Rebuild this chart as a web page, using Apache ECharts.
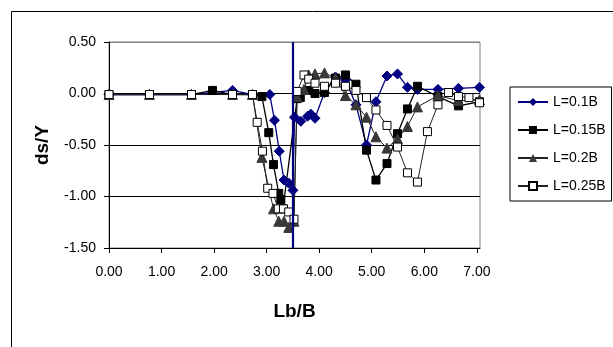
<!DOCTYPE html>
<html>
<head>
<meta charset="utf-8">
<script src="https://cdn.jsdelivr.net/npm/echarts@6/dist/echarts.min.js"></script>
<style>
  html, body { margin: 0; padding: 0; background: #fff; }
  #chart { width: 613px; height: 347px; }
</style>
</head>
<body>
<div id="chart"></div>
<script>
// series names (legend)
var seriesNames = ['L=0.1B', 'L=0.15B', 'L=0.2B', 'L=0.25B'];

// [Lb/B, ds/Y]
var dataL010 = [
  [0, -0.01], [0.77, -0.01], [1.57, -0.01], [2.35, 0.03], [2.73, -0.01], [3.06, -0.01],
  [3.15, -0.26], [3.24, -0.56], [3.33, -0.84], [3.42, -0.87], [3.50, -0.94], [3.53, -0.23],
  [3.65, -0.27], [3.78, -0.22], [3.84, -0.20], [3.92, -0.24], [4.10, 0.01], [4.31, 0.16],
  [4.50, 0.13], [4.70, -0.11], [4.90, -0.50], [5.08, -0.08], [5.29, 0.17], [5.49, 0.19],
  [5.68, 0.06], [5.87, 0.04], [6.26, 0.04], [6.65, 0.05], [7.05, 0.06]
];
var dataL015 = [
  [0, -0.01], [0.77, -0.01], [1.57, -0.01], [1.97, 0.03], [2.35, -0.01], [2.73, -0.01],
  [2.91, -0.03], [3.04, -0.38], [3.13, -0.69], [3.23, -0.97], [3.27, -1.03], [3.31, -1.12],
  [3.58, -0.05], [3.64, -0.04], [3.80, 0.03], [3.92, 0.00], [4.10, 0.01], [4.31, 0.15],
  [4.50, 0.18], [4.70, 0.09], [4.90, -0.55], [5.08, -0.84], [5.29, -0.68], [5.49, -0.39],
  [5.68, -0.15], [5.87, 0.07], [6.26, -0.03], [6.65, -0.12], [7.05, -0.08]
];
var dataL020 = [
  [0, -0.01], [0.77, -0.01], [1.57, -0.01], [2.35, -0.01], [2.73, -0.01], [2.91, -0.62],
  [3.13, -1.12], [3.23, -1.24], [3.33, -1.24], [3.42, -1.30], [3.52, -1.24], [3.58, -0.03],
  [3.71, 0.04], [3.80, 0.18], [3.92, 0.19], [4.10, 0.20], [4.31, 0.15], [4.50, -0.02],
  [4.70, -0.11], [4.90, -0.23], [5.08, -0.42], [5.29, -0.53], [5.49, -0.44], [5.68, -0.32],
  [5.87, -0.13], [6.26, -0.02], [6.65, -0.07], [7.05, -0.06]
];
var dataL025 = [
  [0, -0.01], [0.77, -0.01], [1.57, -0.01], [2.35, -0.01], [2.73, -0.01], [2.82, -0.28],
  [2.92, -0.56], [3.02, -0.92], [3.12, -0.97], [3.22, -1.12], [3.32, -1.12], [3.42, -1.15],
  [3.52, -1.22], [3.58, 0.02], [3.71, 0.18], [3.80, 0.14], [3.92, 0.10], [4.10, 0.07],
  [4.31, 0.10], [4.50, 0.07], [4.70, 0.03], [4.90, -0.04], [5.08, -0.16], [5.29, -0.31],
  [5.49, -0.52], [5.68, -0.77], [5.87, -0.86], [6.06, -0.37], [6.26, -0.11], [6.46, 0.01],
  [6.65, -0.03], [6.85, -0.04], [7.05, -0.09]
];

// vertical reference line (Lb/B)
var refLineX = 3.49;

var chart = echarts.init(document.getElementById('chart'), null, { renderer: 'canvas' });

var font = 'Arial, "Liberation Sans", sans-serif';

var option = {
  animation: false,
  backgroundColor: '#fff',
  textStyle: { fontFamily: font, color: '#000' },
  graphic: [
    {
      type: 'rect',
      shape: { x: 11.5, y: 11.5, width: 700, height: 400 },
      style: { fill: 'none', stroke: '#000', lineWidth: 1 },
      silent: true
    }
  ],
  grid: {
    left: 109, top: 42, right: 133, bottom: 99,
    show: true, borderColor: '#808080', borderWidth: 1, backgroundColor: 'transparent'
  },
  legend: {
    orient: 'vertical',
    left: 510, top: 87,
    padding: [7, 6, 7, 7],
    borderColor: '#000', borderWidth: 1,
    itemWidth: 30, itemHeight: 10, itemGap: 12,
    textStyle: { fontFamily: font, fontSize: 14, color: '#000', lineHeight: 16 },
    data: seriesNames
  },
  xAxis: {
    type: 'value',
    min: 0, max: 7.06, interval: 1,
    name: 'Lb/B', nameLocation: 'middle', nameGap: 54,
    nameTextStyle: { fontFamily: font, fontSize: 19, fontWeight: 'bold', color: '#000' },
    axisLine: { show: true, onZero: false, lineStyle: { color: '#000', width: 1 } },
    axisTick: { show: true, length: 5, lineStyle: { color: '#000' } },
    axisLabel: {
      margin: 17, fontSize: 14, color: '#000', fontFamily: font, showMaxLabel: false,
      formatter: function (v) { return v.toFixed(2); }
    },
    splitLine: { show: false }
  },
  yAxis: {
    type: 'value',
    min: -1.5, max: 0.5, interval: 0.5,
    name: 'ds/Y', nameLocation: 'middle', nameGap: 57, nameRotate: 90,
    nameTextStyle: { fontFamily: font, fontSize: 19, fontWeight: 'bold', color: '#000' },
    axisLine: { show: true, lineStyle: { color: '#000', width: 1 } },
    axisTick: { show: true, length: 5, lineStyle: { color: '#000' } },
    axisLabel: {
      margin: 13, fontSize: 14, color: '#000', fontFamily: font,
      formatter: function (v) { return v.toFixed(2); }
    },
    splitLine: { show: true, lineStyle: { color: ['#000', '#000', '#000', '#000', '#808080'], width: 1 } }
  },
  series: [
    {
      name: seriesNames[0], type: 'line', data: dataL010,
      symbol: 'diamond', symbolSize: 10,
      itemStyle: { color: '#000080', borderColor: '#000080' },
      lineStyle: { color: '#000080', width: 1.3 },
      markLine: {
        silent: true, symbol: ['none', 'none'],
        label: { show: false },
        lineStyle: { color: '#000080', width: 2.2, type: 'solid' },
        data: [{ xAxis: refLineX }]
      }
    },
    {
      name: seriesNames[1], type: 'line', data: dataL015,
      symbol: 'rect', symbolSize: 8,
      itemStyle: { color: '#000', borderColor: '#000' },
      lineStyle: { color: '#000', width: 1.3 }
    },
    {
      name: seriesNames[2], type: 'line', data: dataL020,
      symbol: 'triangle', symbolSize: 10,
      itemStyle: { color: '#383838', borderColor: '#383838' },
      lineStyle: { color: '#222', width: 1 }
    },
    {
      name: seriesNames[3], type: 'line', data: dataL025,
      symbol: 'rect', symbolSize: 8,
      itemStyle: { color: '#fff', borderColor: '#000', borderWidth: 1 },
      lineStyle: { color: '#222', width: 1 }
    }
  ]
};

chart.setOption(option);
</script>
</body>
</html>
